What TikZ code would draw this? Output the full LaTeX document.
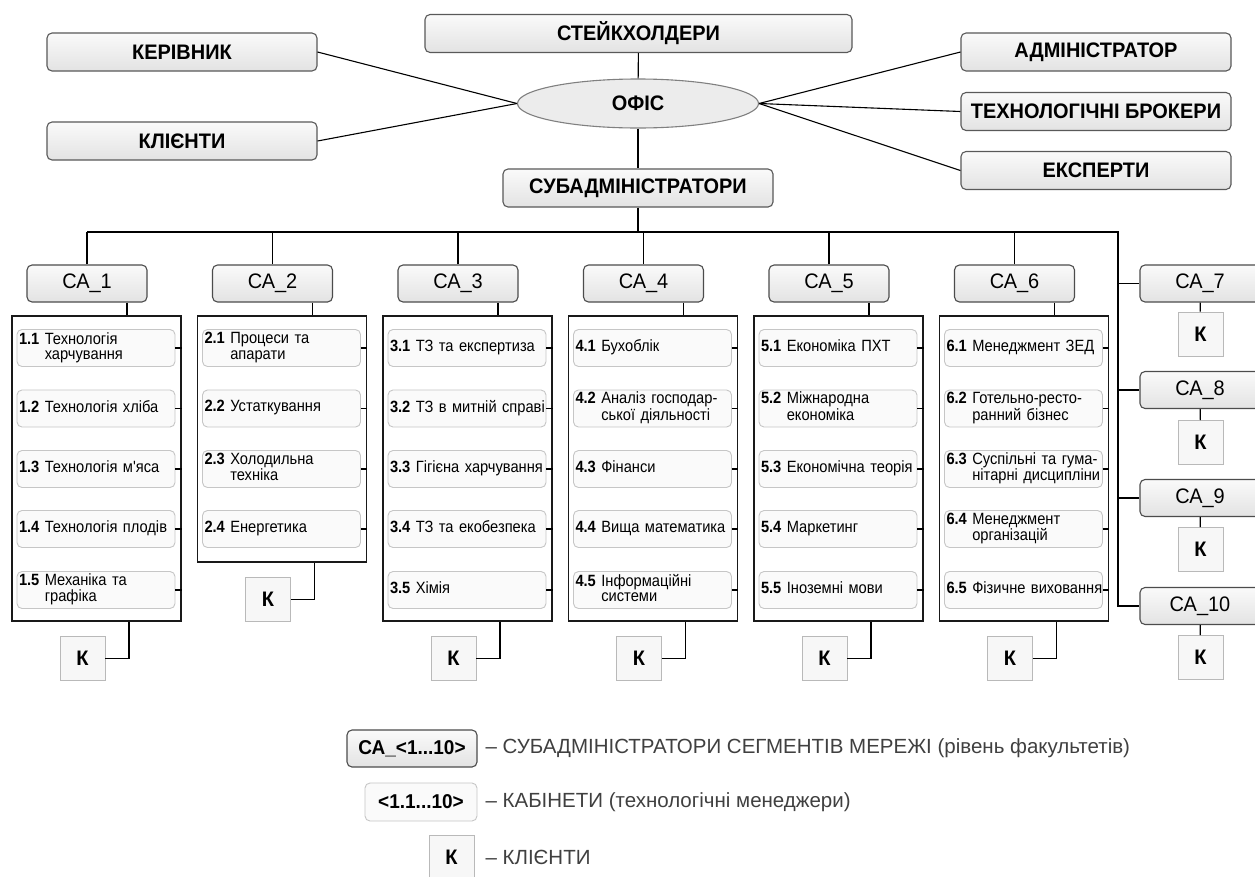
\documentclass[tikz,border=0pt]{standalone}
\usepackage{fontspec}
\setmainfont{Liberation Sans}[FakeStretch=0.95]
\newfontfamily\narrowfont{Liberation Sans}[FakeStretch=0.9]
\newfontfamily\notefont{Liberation Sans}
\usetikzlibrary{positioning,shapes.geometric}

\newcommand{\cab}[2]{\textbf{#1}~\begin{tabular}[t]{@{}l@{}}#2\end{tabular}}

\begin{document}
\begin{tikzpicture}[x=1pt,y=-1pt,line width=1.1pt,
  topbox/.style={draw=black!65, rounded corners=5pt, top color=gray!4, bottom color=gray!22,
    minimum width=270pt, minimum height=38pt, inner sep=3pt, font=\fontsize{21}{24}\selectfont\bfseries},
  office/.style={ellipse, draw=black!50, fill=gray!15, minimum width=241pt, minimum height=49pt,
    inner sep=0pt, font=\fontsize{21}{24}\selectfont\bfseries},
  cabox/.style={draw=black!70, rounded corners=5pt, top color=gray!4, bottom color=gray!22,
    minimum width=120pt, minimum height=37pt, inner sep=2pt, font=\fontsize{21}{24}\selectfont},
  group/.style={draw=black!90, line width=1.4pt, fill=white, minimum width=169pt, inner sep=0pt},
  room/.style={draw=gray!45, line width=0.9pt, fill=gray!4, rounded corners=5pt, minimum width=158pt,
    minimum height=37pt, text width=154pt, inner sep=2pt, align=left,
    font=\narrowfont\fontsize{16.3}{15.2}\selectfont},
  kbox/.style={draw=gray!55, line width=0.9pt, fill=gray!6, minimum width=45pt, minimum height=44pt,
    inner sep=0pt, font=\fontsize{21}{24}\selectfont\bfseries},
  note/.style={anchor=west, text=black!75, inner sep=0pt, font=\notefont\fontsize{20.5}{24}\selectfont}]
\fill[white] (0,0) rectangle (1255,876);
\useasboundingbox (0,0) rectangle (1255,876);

% top level
\node[topbox, minimum width=427pt] (stake) at (638.5,33.5) {СТЕЙКХОЛДЕРИ};
\node[office] (office) at (638,103.5) {ОФІС};
\node[topbox] (boss) at (182,52) {КЕРІВНИК};
\node[topbox] (clients) at (182,141) {КЛІЄНТИ};
\node[topbox] (admin) at (1096,52) {АДМІНІСТРАТОР};
\node[topbox] (brokers) at (1096,111.5) {ТЕХНОЛОГІЧНІ БРОКЕРИ};
\node[topbox] (experts) at (1096,170.5) {ЕКСПЕРТИ};
\node[topbox] (subadm) at (638,188) {СУБАДМІНІСТРАТОРИ};
\draw (stake) -- (office);
\draw (office) -- (subadm);
\draw (boss.east) -- (office.west);
\draw (clients.east) -- (office.west);
\draw (office.east) -- (admin.west);
\draw (office.east) -- (brokers.west);
\draw (office.east) -- (experts.west);

% segment sub-administrators
\coordinate (busL) at (87,232);
\coordinate (busR) at (1118,232);
\node[cabox] (ca1) at (87,283.5) {СА\_1};
\node[cabox] (ca2) at (272.5,283.5) {СА\_2};
\node[cabox] (ca3) at (458,283.5) {СА\_3};
\node[cabox] (ca4) at (643.5,283.5) {СА\_4};
\node[cabox] (ca5) at (829,283.5) {СА\_5};
\node[cabox] (ca6) at (1014.5,283.5) {СА\_6};
\node[cabox] (ca7) at (1200,283.5) {СА\_7};
\node[cabox] (ca8) at (1200,390) {СА\_8};
\node[cabox] (ca9) at (1200,498) {СА\_9};
\node[cabox] (ca10) at (1200,606) {СА\_10};
\draw (subadm) -- (subadm |- busL);
\draw (busL) -- (busR) -- (busR |- ca10.west) -- (ca10.west);
\draw (busR |- ca7.west) -- (ca7.west);
\draw (busR |- ca8.west) -- (ca8.west);
\draw (busR |- ca9.west) -- (ca9.west);
\draw (ca1) -- (ca1 |- busL);
\draw (ca2) -- (ca2 |- busL);
\draw (ca3) -- (ca3 |- busL);
\draw (ca4) -- (ca4 |- busL);
\draw (ca5) -- (ca5 |- busL);
\draw (ca6) -- (ca6 |- busL);

% cabinets
\node[group, minimum height=305pt] (col1) at (96.5,468.5) {};
\node[group, minimum height=246pt] (col2) at (282,439) {};
\node[group, minimum height=305pt] (col3) at (467.5,468.5) {};
\node[group, minimum height=305pt] (col4) at (653,468.5) {};
\node[group, minimum height=305pt] (col5) at (838.5,468.5) {};
\node[group, minimum height=305pt] (col6) at (1024,468.5) {};

\node[room] (r11) at (96,348) {\cab{1.1}{Технологія\\харчування}};
\node[room] (r12) at (96,408.5) {\cab{1.2}{Технологія хліба}};
\node[room] (r13) at (96,469) {\cab{1.3}{Технологія м'яса}};
\node[room] (r14) at (96,529) {\cab{1.4}{Технологія плодів}};
\node[room] (r15) at (96,590) {\cab{1.5}{Механіка та\\графіка}};

\node[room] (r21) at (281.5,348) {\cab{2.1}{Процеси та\\апарати}};
\node[room] (r22) at (281.5,408.5) {\cab{2.2}{Устаткування}};
\node[room] (r23) at (281.5,469) {\cab{2.3}{Холодильна\\техніка}};
\node[room] (r24) at (281.5,529) {\cab{2.4}{Енергетика}};

\node[room] (r31) at (467,348) {\cab{3.1}{ТЗ та експертиза}};
\node[room] (r32) at (467,408.5) {\cab{3.2}{ТЗ в митній справі}};
\node[room] (r33) at (467,469) {\cab{3.3}{Гігієна харчування}};
\node[room] (r34) at (467,529) {\cab{3.4}{ТЗ та екобезпека}};
\node[room] (r35) at (467,590) {\cab{3.5}{Хімія}};

\node[room] (r41) at (652.5,348) {\cab{4.1}{Бухоблік}};
\node[room] (r42) at (652.5,408.5) {\cab{4.2}{Аналіз господар-\\ської діяльності}};
\node[room] (r43) at (652.5,469) {\cab{4.3}{Фінанси}};
\node[room] (r44) at (652.5,529) {\cab{4.4}{Вища математика}};
\node[room] (r45) at (652.5,590) {\cab{4.5}{Інформаційні\\системи}};

\node[room] (r51) at (838,348) {\cab{5.1}{Економіка ПХТ}};
\node[room] (r52) at (838,408.5) {\cab{5.2}{Міжнародна\\економіка}};
\node[room] (r53) at (838,469) {\cab{5.3}{Економічна теорія}};
\node[room] (r54) at (838,529) {\cab{5.4}{Маркетинг}};
\node[room] (r55) at (838,590) {\cab{5.5}{Іноземні мови}};

\node[room] (r61) at (1023.5,348) {\cab{6.1}{Менеджмент ЗЕД}};
\node[room] (r62) at (1023.5,408.5) {\cab{6.2}{Готельно-ресто-\\ранний бізнес}};
\node[room] (r63) at (1023.5,469) {\cab{6.3}{Суспільні та гума-\\нітарні дисципліни}};
\node[room] (r64) at (1023.5,529) {\cab{6.4}{Менеджмент\\організацій}};
\node[room] (r65) at (1023.5,590) {\cab{6.5}{Фізичне виховання}};

\draw ([xshift=40pt]ca1.south) -- ([xshift=30.5pt]col1.north);
\draw ([xshift=40pt]ca2.south) -- ([xshift=30.5pt]col2.north);
\draw ([xshift=40pt]ca3.south) -- ([xshift=30.5pt]col3.north);
\draw ([xshift=40pt]ca4.south) -- ([xshift=30.5pt]col4.north);
\draw ([xshift=40pt]ca5.south) -- ([xshift=30.5pt]col5.north);
\draw ([xshift=40pt]ca6.south) -- ([xshift=30.5pt]col6.north);

\draw (r11.east) -- (r11.east -| col1.east);
\draw (r12.east) -- (r12.east -| col1.east);
\draw (r13.east) -- (r13.east -| col1.east);
\draw (r14.east) -- (r14.east -| col1.east);
\draw (r15.east) -- (r15.east -| col1.east);
\draw (r21.east) -- (r21.east -| col2.east);
\draw (r22.east) -- (r22.east -| col2.east);
\draw (r23.east) -- (r23.east -| col2.east);
\draw (r24.east) -- (r24.east -| col2.east);
\draw (r31.east) -- (r31.east -| col3.east);
\draw (r32.east) -- (r32.east -| col3.east);
\draw (r33.east) -- (r33.east -| col3.east);
\draw (r34.east) -- (r34.east -| col3.east);
\draw (r35.east) -- (r35.east -| col3.east);
\draw (r41.east) -- (r41.east -| col4.east);
\draw (r42.east) -- (r42.east -| col4.east);
\draw (r43.east) -- (r43.east -| col4.east);
\draw (r44.east) -- (r44.east -| col4.east);
\draw (r45.east) -- (r45.east -| col4.east);
\draw (r51.east) -- (r51.east -| col5.east);
\draw (r52.east) -- (r52.east -| col5.east);
\draw (r53.east) -- (r53.east -| col5.east);
\draw (r54.east) -- (r54.east -| col5.east);
\draw (r55.east) -- (r55.east -| col5.east);
\draw (r61.east) -- (r61.east -| col6.east);
\draw (r62.east) -- (r62.east -| col6.east);
\draw (r63.east) -- (r63.east -| col6.east);
\draw (r64.east) -- (r64.east -| col6.east);
\draw (r65.east) -- (r65.east -| col6.east);

% clients
\node[kbox] (k1) at (82.5,658.5) {К};
\node[kbox] (k2) at (268,599.5) {К};
\node[kbox] (k3) at (453.5,658.5) {К};
\node[kbox] (k4) at (639,658.5) {К};
\node[kbox] (k5) at (824.5,658.5) {К};
\node[kbox] (k6) at (1010,658.5) {К};
\node[kbox] (k7) at (1200.5,334) {К};
\node[kbox] (k8) at (1200.5,442.5) {К};
\node[kbox] (k9) at (1200.5,549.5) {К};
\node[kbox] (k10) at (1200.5,657.5) {К};
\draw (k1.east) -| ([xshift=32.5pt]col1.south);
\draw (k2.east) -| ([xshift=32.5pt]col2.south);
\draw (k3.east) -| ([xshift=32.5pt]col3.south);
\draw (k4.east) -| ([xshift=32.5pt]col4.south);
\draw (k5.east) -| ([xshift=32.5pt]col5.south);
\draw (k6.east) -| ([xshift=32.5pt]col6.south);
\draw (ca7) -- (k7);
\draw (ca8) -- (k8);
\draw (ca9) -- (k9);
\draw (ca10) -- (k10);

% legend
\node[cabox, minimum width=130pt, font=\fontsize{20}{24}\selectfont\bfseries] (lgca) at (412,748.5) {СА\_<1...10>};
\node[room, text width=, minimum width=112pt, minimum height=38pt, align=center,
  font=\fontsize{20}{24}\selectfont\bfseries] (lgroom) at (421,802) {<1.1...10>};
\node[kbox] (lgk) at (451.5,857.5) {К};
\node[note] (lgcatext) at (485,748.5) {– СУБАДМІНІСТРАТОРИ СЕГМЕНТІВ МЕРЕЖІ (рівень факультетів)};
\node[note] (lgroomtext) at (485,802) {– КАБІНЕТИ (технологічні менеджери)};
\node[note] (lgktext) at (485,857.5) {– КЛІЄНТИ};
\end{tikzpicture}
\end{document}
